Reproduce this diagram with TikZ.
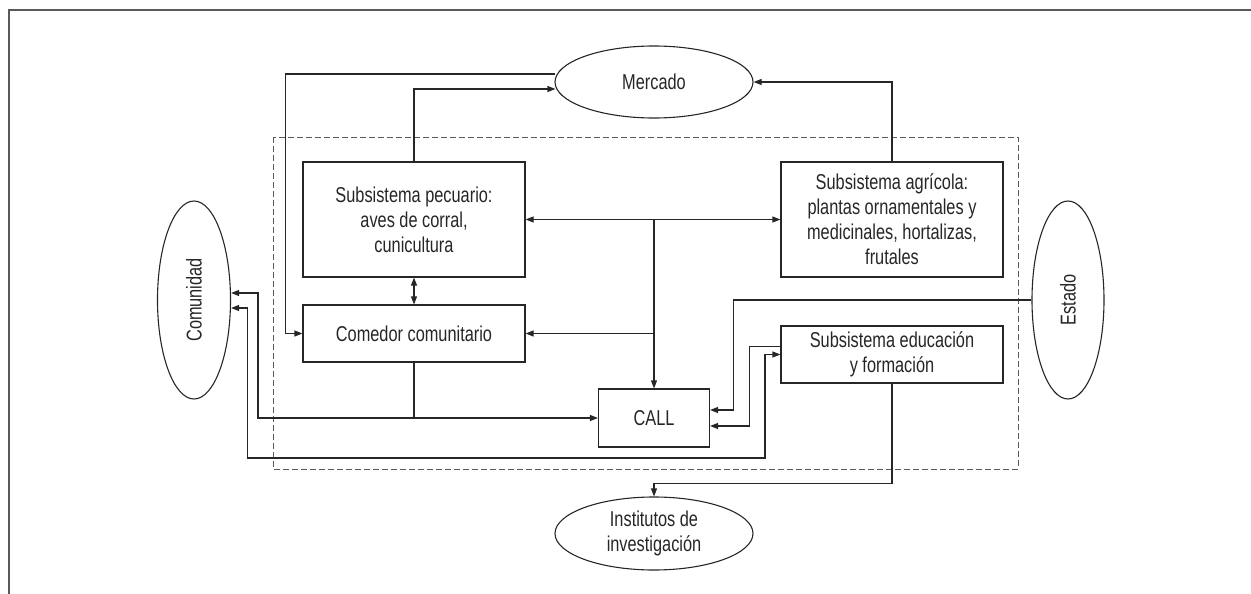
\documentclass[tikz,border=0pt]{standalone}
\usepackage{fontspec}
\setmainfont{Liberation Sans}[FakeStretch=0.76]
\usepackage{graphicx}
\usepackage{tikz}
\usetikzlibrary{positioning,arrows.meta,calc,shapes.geometric}
\definecolor{ink}{HTML}{262626}
\definecolor{rule}{HTML}{5A5A5A}

\begin{document}
\begin{tikzpicture}[x=1pt, y=-1pt, line width=1.1pt, color=ink,
  >={Triangle[length=8pt,width=6pt]},
  every node/.style={font=\fontsize{21.5}{25}\selectfont, align=center, inner sep=0pt},
  box/.style={draw, rectangle},
  oval/.style={draw, ellipse}]
  \useasboundingbox (0,0) rectangle (1251,594);
  \draw[rule, line width=1.6pt] (1251,10) -- (9,10) -- (9,594);
  \draw[rule, dash pattern=on 6pt off 3pt, line width=0.9pt] (273,137) rectangle (1018,469);

  \node[oval, minimum width=198pt, minimum height=72pt] (mercado) at (654,82) {Mercado};
  \node[oval, minimum width=73pt, minimum height=198pt] (comunidad) at (194,300) {\rotatebox{90}{Comunidad}};
  \node[oval, minimum width=72pt, minimum height=198pt] (estado) at (1068,300) {\rotatebox{90}{Estado}};
  \node[oval, minimum width=198pt, minimum height=73pt] (institutos) at (654,533.5) {Institutos de\\investigación};
  \node[box, minimum width=222pt, minimum height=115pt] (pecuario) at (414,219.5) {Subsistema pecuario:\\aves de corral,\\cunicultura};
  \node[box, minimum width=222pt, minimum height=57pt] (comedor) at (414,333.5) {Comedor comunitario};
  \node[box, minimum width=222pt, minimum height=115pt] (agricola) at (892,219.5) {Subsistema agrícola:\\plantas ornamentales y\\medicinales, hortalizas,\\frutales};
  \node[box, minimum width=222pt, minimum height=57pt] (educacion) at (892,354.5) {Subsistema educación\\y formación};
  \node[box, minimum width=111pt, minimum height=58pt] (call) at (654,418) {CALL};
  \coordinate (hub) at (654,219.5);

  \draw[->] ($(mercado.west)+(1,-8)$) -- ++(-270,0) |- (comedor.west);
  \draw[->] (pecuario.north) |- ($(mercado.west)+(1,7)$);
  \draw[->] (agricola.north) |- (mercado.east);
  \draw[<->] (pecuario.east) -- (agricola.west);
  \draw[->] (hub) -- (call.north);
  \draw[->] (hub |- comedor.east) -- (comedor.east);
  \draw[<->] (pecuario.south) -- (comedor.north);
  \draw[->] (comedor.south) |- (call.west);
  \draw[->] (comedor.south |- call.west) -- ++(-156,0) |- ($(comunidad.east)+(0,-7)$);
  \draw[<->] ($(comunidad.east)+(0,8)$) -- ++(16.5,0) |- (765,458) |- (educacion.west);
  \draw[->] (estado.west) -- ++(-298,0) |- ($(call.east)+(0,-8)$);
  \draw[->] ($(educacion.west)+(0,-8)$) -- ++(-31,0) |- ($(call.east)+(0,8)$);
  \draw[->] (educacion.south) -- ++(0,100) -| (institutos.north);
\end{tikzpicture}
\end{document}
